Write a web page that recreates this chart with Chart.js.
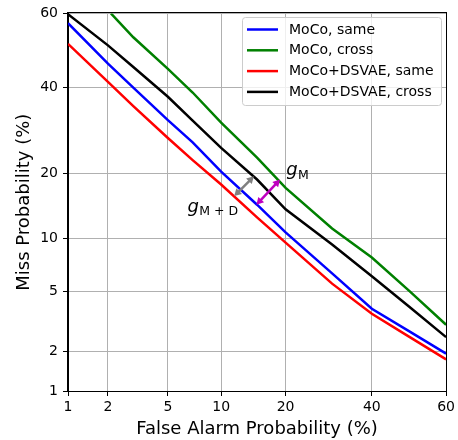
<!DOCTYPE html>
<html>
<head>
<meta charset="utf-8">
<script src="https://cdn.jsdelivr.net/npm/chart.js@4/dist/chart.umd.min.js"></script>
<style>
html,body{margin:0;padding:0;background:#fff;}
#c{display:block;}
</style>
</head>
<body>
<canvas id="c" width="458" height="440"></canvas>
<script>
// ---- data (percent) ----
const tickValues = [1, 2, 5, 10, 20, 40, 60];
const fprCommon = [1, 2, 3, 5, 7, 10, 15, 20, 30, 40, 50, 60];
const mocoSame = [57.4, 46.4, 40.0, 31.7, 26.5, 20.4, 14.6, 10.7, 6.39, 3.88, 2.76, 1.92];
const fprMocoCross = [2.1, 3, 5, 7, 10, 15, 20, 30, 40, 50, 60];
const mocoCross = [60, 53.6, 45.0, 38.7, 31.1, 23.2, 17.4, 11.2, 7.86, 5.04, 3.05];
const dsvaeSame = [51.8, 41.5, 35.2, 27.5, 22.7, 18.0, 12.7, 9.46, 5.56, 3.60, 2.53, 1.74];
const dsvaeCross = [59.8, 51.4, 45.5, 37.6, 31.6, 25.3, 18.9, 13.9, 9.25, 6.15, 4.01, 2.51];
const seriesLabels = ['MoCo, same', 'MoCo, cross', 'MoCo+DSVAE, same', 'MoCo+DSVAE, cross'];
// gap arrows: [x1, y1, x2, y2] in percent
const gapMD = [11.66, 16.0, 14.5, 19.5];
const gapM = [14.9, 14.6, 18.95, 18.9];
// gap labels anchor [x, y] in percent
const labelMPos = [20.1, 19.7];
const labelMDPos = [6.53, 13.5];

function probit(p){
  const a=[-3.969683028665376e+01,2.209460984245205e+02,-2.759285104469687e+02,1.383577518672690e+02,-3.066479806614716e+01,2.506628277459239e+00];
  const b=[-5.447609879822406e+01,1.615858368580409e+02,-1.556989798598866e+02,6.680131188771972e+01,-1.328068155288572e+01];
  const c=[-7.784894002430293e-03,-3.223964580411365e-01,-2.400758277161838e+00,-2.549732539343734e+00,4.374664141464968e+00,2.938163982698783e+00];
  const d=[7.784695709041462e-03,3.224671290700398e-01,2.445134137142996e+00,3.754408661907416e+00];
  const pl=0.02425, ph=1-pl; let q,r;
  if(p<pl){q=Math.sqrt(-2*Math.log(p));return (((((c[0]*q+c[1])*q+c[2])*q+c[3])*q+c[4])*q+c[5])/((((d[0]*q+d[1])*q+d[2])*q+d[3])*q+1);}
  if(p<=ph){q=p-0.5;r=q*q;return (((((a[0]*r+a[1])*r+a[2])*r+a[3])*r+a[4])*r+a[5])*q/(((((b[0]*r+b[1])*r+b[2])*r+b[3])*r+b[4])*r+1);}
  q=Math.sqrt(-2*Math.log(1-p));return -(((((c[0]*q+c[1])*q+c[2])*q+c[3])*q+c[4])*q+c[5])/((((d[0]*q+d[1])*q+d[2])*q+d[3])*q+1);
}
const pr = v => probit(v/100);
const pts = (xs, ys) => xs.map((x,i)=>({x: pr(x), y: pr(ys[i])}));

const colors = ['#0000ff', '#008000', '#ff0000', '#000000'];
const FONT = "'DejaVu Sans', sans-serif";

const decor = {
  id: 'decor',
  afterDatasetsDraw(chart){
    const ctx = chart.ctx, xs = chart.scales.x, ys = chart.scales.y;
    const px = v => xs.getPixelForValue(pr(v));
    const py = v => ys.getPixelForValue(pr(v));
    function arrow(g, color){
      const x1=px(g[0]), y1=py(g[1]), x2=px(g[2]), y2=py(g[3]);
      const ang = Math.atan2(y2-y1, x2-x1);
      const hl = 7, hw = 4;
      const ux=Math.cos(ang), uy=Math.sin(ang);
      ctx.save();
      ctx.strokeStyle=color; ctx.fillStyle=color; ctx.lineWidth=2.5;
      ctx.beginPath(); ctx.moveTo(x1+ux*hl*0.8, y1+uy*hl*0.8); ctx.lineTo(x2-ux*hl*0.8, y2-uy*hl*0.8); ctx.stroke();
      function head(x,y,dx,dy){
        ctx.beginPath(); ctx.moveTo(x,y);
        ctx.lineTo(x-dx*hl - dy*hw, y-dy*hl + dx*hw);
        ctx.lineTo(x-dx*hl + dy*hw, y-dy*hl - dx*hw);
        ctx.closePath(); ctx.fill();
      }
      head(x2,y2,ux,uy); head(x1,y1,-ux,-uy);
      ctx.restore();
    }
    arrow(gapMD, '#808080');
    arrow(gapM, '#bf00bf');
    function glabel(pos, sub){
      const x=px(pos[0]), y=py(pos[1]);
      ctx.save();
      ctx.fillStyle='#000'; ctx.textBaseline='alphabetic'; ctx.textAlign='left';
      ctx.font = "oblique 18px " + FONT;
      ctx.fillText('g', x, y);
      const w = ctx.measureText('g').width;
      ctx.font = "12.5px " + FONT;
      ctx.fillText(sub, x + w + 0.5, y + 3.5);
      ctx.restore();
    }
    glabel(labelMPos, 'M');
    glabel(labelMDPos, 'M + D');

    // legend
    const L=242.5, T=17.5, W=199, H=88, r=3;
    ctx.save();
    ctx.beginPath();
    ctx.moveTo(L+r,T); ctx.lineTo(L+W-r,T); ctx.quadraticCurveTo(L+W,T,L+W,T+r);
    ctx.lineTo(L+W,T+H-r); ctx.quadraticCurveTo(L+W,T+H,L+W-r,T+H);
    ctx.lineTo(L+r,T+H); ctx.quadraticCurveTo(L,T+H,L,T+H-r);
    ctx.lineTo(L,T+r); ctx.quadraticCurveTo(L,T,L+r,T); ctx.closePath();
    ctx.fillStyle='rgba(255,255,255,0.8)'; ctx.fill();
    ctx.strokeStyle='#cccccc'; ctx.lineWidth=1; ctx.stroke();
    ctx.font = "14px " + FONT; ctx.textBaseline='middle'; ctx.textAlign='left';
    chart.data.datasets.forEach((ds,i)=>{
      const yy = 29.5 + i*20.8;
      ctx.strokeStyle = ds.borderColor; ctx.lineWidth=2.5;
      ctx.beginPath(); ctx.moveTo(247, yy); ctx.lineTo(278, yy); ctx.stroke();
      ctx.fillStyle='#000'; ctx.fillText(ds.label, 289, yy+0.5);
    });
    ctx.restore();
  },
  afterDraw(chart){
    const ctx=chart.ctx, a=chart.chartArea;
    ctx.save();
    ctx.strokeStyle='#000'; ctx.lineWidth=1;
    ctx.strokeRect(Math.round(a.left)-0.5, Math.round(a.top)-0.5, Math.round(a.right-a.left)+1, Math.round(a.bottom-a.top)+1);
    ctx.restore();
  }
};

const mkScale = (title, isY) => ({
  type: 'linear',
  min: pr(1), max: pr(60),
  afterBuildTicks(scale){ scale.ticks = tickValues.map(v=>({value: pr(v)})); },
  afterFit(scale){ if(isY) scale.width = 68; else scale.height = 49; },
  ticks: {
    callback: (v, i) => String(tickValues[i]),
    color: '#000',
    font: {family: FONT, size: 14},
    padding: isY ? 5 : 3,
    maxRotation: 0, autoSkip: false
  },
  grid: { color: '#b0b0b0', lineWidth: 1, tickColor: '#000', tickLength: 5, tickWidth: 1 },
  border: { display: true, color: '#000', width: 1 },
  title: { display: true, text: title, color: '#000', font: {family: FONT, size: 18},
           padding: isY ? {top: 14, bottom: 0} : {top: 0, bottom: 0} }
});

new Chart(document.getElementById('c'), {
  type: 'scatter',
  data: {
    datasets: [
      {label: seriesLabels[0], data: pts(fprCommon, mocoSame), borderColor: colors[0]},
      {label: seriesLabels[1], data: pts(fprMocoCross, mocoCross), borderColor: colors[1]},
      {label: seriesLabels[2], data: pts(fprCommon, dsvaeSame), borderColor: colors[2]},
      {label: seriesLabels[3], data: pts(fprCommon, dsvaeCross), borderColor: colors[3]}
    ].map(d => Object.assign(d, {showLine: true, pointRadius: 0, borderWidth: 2.5, tension: 0, fill: false}))
  },
  options: {
    responsive: false, animation: false, devicePixelRatio: 1,
    layout: { padding: {top: 11, right: 10, left: 0, bottom: 0} },
    plugins: { legend: {display: false}, tooltip: {enabled: false} },
    scales: { x: mkScale('False Alarm Probability (%)', false), y: mkScale('Miss Probability (%)', true) }
  },
  plugins: [decor]
});
</script>
</body>
</html>
